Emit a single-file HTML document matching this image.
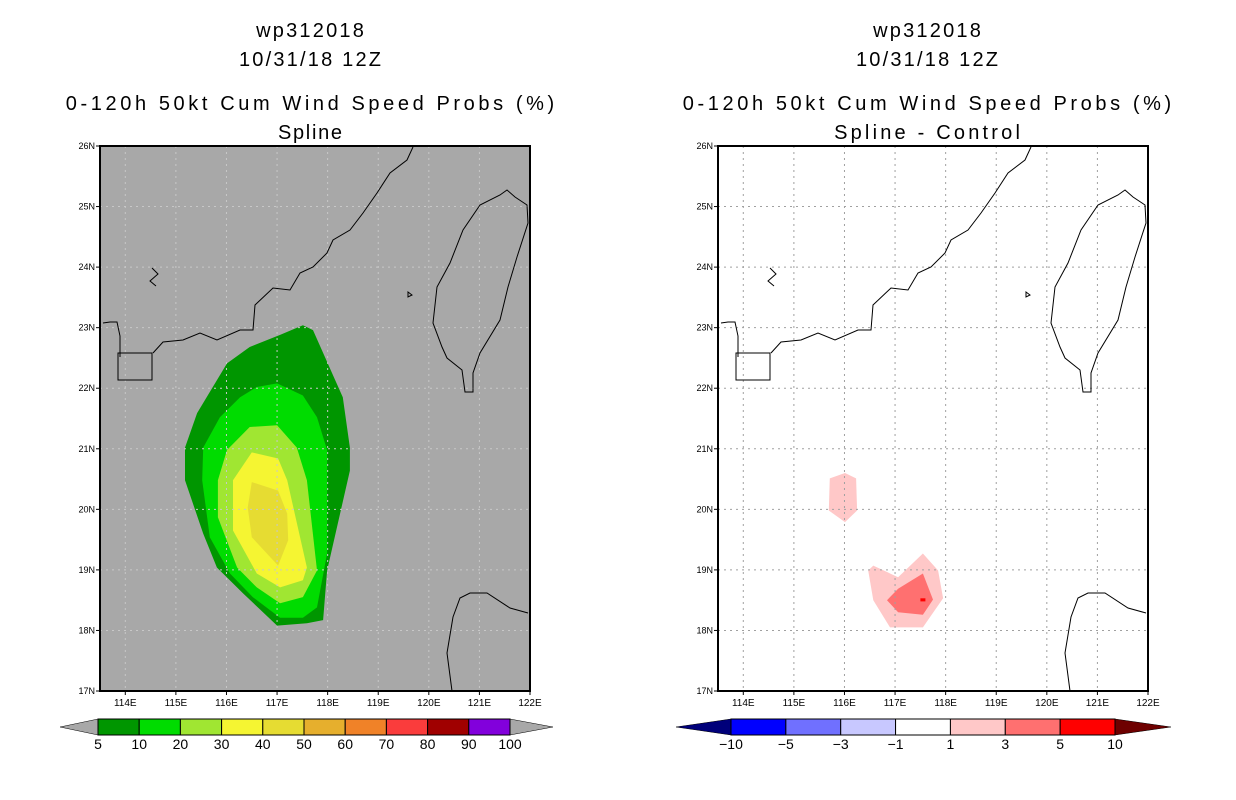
<!DOCTYPE html>
<html><head><meta charset="utf-8"><style>
html,body{margin:0;padding:0;background:#fff;width:1236px;height:800px;overflow:hidden}
svg{display:block;font-family:"Liberation Sans",sans-serif}
</style></head><body>
<svg id="root" width="1236" height="800" viewBox="0 0 1236 800"></svg>
<script>
// ---- data ----
const latTicks = [17,18,19,20,21,22,23,24,25,26];
const lonTicks = [114,115,116,117,118,119,120,121,122];
const probLevels = ["5","10","20","30","40","50","60","70","80","90","100"];
const probColors = ["#009600","#00dc00","#a0e632","#f5f532","#e6dc32","#e6af2d","#f08228","#fa3c3c","#a00000","#8200dc"];
const diffLevels = ["-10","-5","-3","-1","1","3","5","10"];
const diffColors = ["#0000ff","#7070ff","#c8c8ff","#ffffff","#ffc8c8","#ff7070","#ff0000"];
const prob5Lon = [117.51,117.71,118.30,118.44,118.44,117.99,117.91,117.59,117.00,116.33,115.81,115.54,115.18,115.18,115.42,116.01,116.46,117.06];
const prob5Lat = [23.04,22.96,21.85,21.02,20.64,18.99,18.17,18.12,18.08,18.61,19.04,19.60,20.48,21.02,21.59,22.41,22.68,22.88];
const prob10Lon = [117.00,117.51,117.79,117.99,117.99,117.79,117.51,117.06,116.52,116.07,115.67,115.52,115.54,115.87,116.27,116.60];
const prob10Lat = [22.08,21.88,21.52,20.98,19.27,18.38,18.21,18.21,18.55,18.94,19.54,20.48,21.02,21.52,21.85,22.02];
const prob20Lon = [116.46,117.00,117.39,117.59,117.79,117.51,117.06,116.60,116.21,115.83,115.83,116.01];
const prob20Lat = [21.36,21.39,21.02,20.48,18.99,18.55,18.45,18.71,19.04,19.87,20.48,20.98];
const prob30Lon = [116.50,117.02,117.20,117.59,117.51,117.06,116.60,116.13,116.13];
const prob30Lat = [20.94,20.84,20.48,19.04,18.83,18.71,18.94,19.65,20.48];
const prob40Lon = [116.50,117.02,117.20,117.22,117.02,116.50,116.42];
const prob40Lat = [20.45,20.31,19.93,19.49,19.07,19.54,20.03];
const diffALon = [115.71,116.01,116.23,116.25,116.01,115.69];
const diffALat = [20.51,20.60,20.51,19.98,19.79,19.98];
const diffBLon = [116.47,116.57,117.06,117.55,117.85,117.95,117.55,116.90,116.57];
const diffBLat = [18.99,19.07,18.88,19.27,18.99,18.53,18.05,18.05,18.50];
const diffCLon = [116.84,117.06,117.55,117.75,117.55,117.06];
const diffCLat = [18.50,18.69,18.94,18.51,18.26,18.30];
const diffDLon = [117.50,117.60,117.60,117.50];
const diffDLat = [18.53,18.53,18.48,18.48];

const NS="http://www.w3.org/2000/svg";
const root=document.getElementById('root');
function mk(tag,attrs,parent){const e=document.createElementNS(NS,tag);for(const k in attrs)e.setAttribute(k,attrs[k]);(parent||root).appendChild(e);return e;}
const MAP={y0:146,y1:691,latMin:17,latMax:26,lonMin:113.5,lonMax:122};
function makeAxes(x0){const x1=x0+430;
 return {x:lon=>x0+(lon-MAP.lonMin)/(MAP.lonMax-MAP.lonMin)*(x1-x0),
         y:lat=>MAP.y1-(lat-MAP.latMin)/(MAP.latMax-MAP.latMin)*(MAP.y1-MAP.y0),x0:x0,x1:x1};}
function poly(ax,lons,lats,fill,g,name){const pts=lons.map((l,i)=>ax.x(l).toFixed(1)+','+ax.y(lats[i]).toFixed(1)).join(' ');
 const p=mk('polygon',{points:pts,fill:fill},g);
 
 }
const coast="M3,177 L10,176 L17,176 L20,190 L20,211 M18,207 L52,207 L52,234 L18,234 Z M53,207 L63,196 L83,194 L100,187 L117,194 L140,184 L153,184 L155,159 L173,142 L190,144 L200,127 L213,121 L227,107 L233,94 L250,84 L263,67 L277,47 L290,27 L307,14 L313,1 M407,44 L415,51 L427,59 L428,77 L417,111 L408,141 L400,174 L380,207 L373,227 L373,246 L365,246 L362,224 L347,212 L342,201 L333,177 L337,141 L350,117 L363,84 L380,59 L400,49 Z M352,545 L347,507 L353,471 L360,452 L370,447 L387,447 L410,462 L428,467 M52,122 L58,128 L50,135 L56,140 M308,146 L312,149 L308,151 Z";
function panel(x0,bg,grid,name){
 const g=mk('g',{},root);
 
 
 mk('rect',{x:x0,y:MAP.y0,width:430,height:545,fill:bg},g);
 return g;}
function finishPanel(g,ax,grid){
 lonTicks.forEach(l=>{const x=ax.x(l);
  if(l<122){const ln=mk('line',{x1:x,y1:MAP.y0,x2:x,y2:MAP.y1,stroke:grid,'stroke-width':1,'stroke-dasharray':'2,4'},g);
  }
  mk('line',{x1:x,y1:MAP.y1,x2:x,y2:MAP.y1+4,stroke:'#000'},g);
  const t=mk('text',{x:x,y:MAP.y1+15,'font-size':10,'text-anchor':'middle',fill:'#000'},g);t.textContent=l+'E';
  });
 latTicks.forEach(l=>{const y=ax.y(l);
  if(l>17&&l<26){const ln=mk('line',{x1:ax.x0,y1:y,x2:ax.x1,y2:y,stroke:grid,'stroke-width':1,'stroke-dasharray':'2,4'},g);
  }
  mk('line',{x1:ax.x0-4,y1:y,x2:ax.x0,y2:y,stroke:'#000'},g);
  const t=mk('text',{x:ax.x0-5,y:y+3,'font-size':9,'text-anchor':'end',fill:'#000'},g);t.textContent=l+'N';
  });
 const c=mk('path',{d:coast,transform:'translate('+ax.x0+','+MAP.y0+')',fill:'none',stroke:'#000','stroke-width':1},g);
 
 const f=mk('rect',{x:ax.x0,y:MAP.y0,width:430,height:545,fill:'none',stroke:'#000','stroke-width':2},g);
 }
function titles(cx,lines,sp,name){lines.forEach((s,i)=>{const ys=[37,66,110,139];
 const t=mk('text',{x:cx+sp[i]/2,y:ys[i],'font-size':20,'text-anchor':'middle',fill:'#000','letter-spacing':sp[i]});t.textContent=s;
 });}
// left
const axL=makeAxes(100);
const gL=panel(100,'#a8a8a8','#c8c8c8','left-map-panel');
poly(axL,prob5Lon,prob5Lat,probColors[0],gL,'contour-5pct');
poly(axL,prob10Lon,prob10Lat,probColors[1],gL,'contour-10pct');
poly(axL,prob20Lon,prob20Lat,probColors[2],gL,'contour-20pct');
poly(axL,prob30Lon,prob30Lat,probColors[3],gL,'contour-30pct');
poly(axL,prob40Lon,prob40Lat,probColors[4],gL,'contour-40pct');
finishPanel(gL,axL,'#c8c8c8');
titles(310,['wp312018','10/31/18 12Z','0-120h 50kt Cum Wind Speed Probs (%)','Spline'],[2.2,2.2,3.6,1.7],'left-title');
// right
const axR=makeAxes(718);
const gR=panel(718,'#ffffff','#a0a0a0','right-map-panel');
poly(axR,diffALon,diffALat,diffColors[4],gR,'diff-1to3-north');
poly(axR,diffBLon,diffBLat,diffColors[4],gR,'diff-1to3-south');
poly(axR,diffCLon,diffCLat,diffColors[5],gR,'diff-3to5');
poly(axR,diffDLon,diffDLat,diffColors[6],gR,'diff-5to10');
finishPanel(gR,axR,'#a0a0a0');
titles(927,['wp312018','10/31/18 12Z','0-120h 50kt Cum Wind Speed Probs (%)','Spline - Control'],[2.2,2.2,3.6,3.2],'right-title');
// colorbars
function colorbar(x0,x1,tipL,tipR,cols,labels,lcol,rcol,name){
 const g=mk('g',{});
 const y0=719,y1=735,ym=727,w=(x1-x0)/cols.length;
 mk('polygon',{points:`${x0},${y0} ${x0},${y1} ${tipL},${ym}`,fill:lcol,stroke:'#000','stroke-width':0.5},g);
 mk('polygon',{points:`${x1},${y0} ${x1},${y1} ${tipR},${ym}`,fill:rcol,stroke:'#000','stroke-width':0.5},g);
 cols.forEach((c,i)=>{const r=mk('rect',{x:x0+i*w,y:y0,width:w,height:y1-y0,fill:c,stroke:'#000','stroke-width':1},g);
  });
 labels.forEach((s,i)=>{const x=x0+i*w;
  const t=mk('text',{x:x,y:749,'font-size':14,'text-anchor':'middle',fill:'#000'},g);t.textContent=s.replace('-','\u2212');
  });}
colorbar(98,510,60,553,probColors,probLevels,'#a8a8a8','#a8a8a8','prob-colorbar');
colorbar(731,1115,676,1171,diffColors,diffLevels,'#00007a','#6e0000','diff-colorbar');
</script>
</body></html>
